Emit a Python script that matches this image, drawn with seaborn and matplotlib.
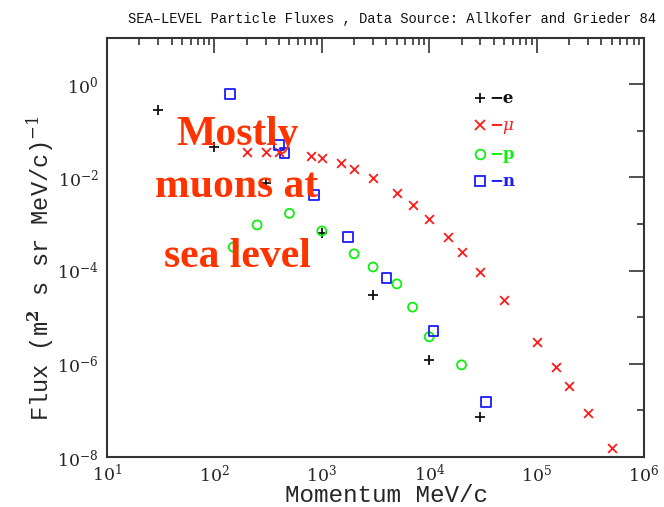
import numpy as np
import pandas as pd
import matplotlib
matplotlib.use("Agg")
import matplotlib.pyplot as plt
from matplotlib.ticker import LogLocator, FixedLocator, LogFormatterMathtext, NullFormatter
from matplotlib.lines import Line2D
import seaborn as sns

# Sea-level particle fluxes (Allkofer & Grieder 1984)
e_p = [30, 100, 300, 1000, 3000, 10000, 30000]
e_flux = [0.28, 0.045, 0.0076, 6.5e-4, 3.0e-5, 1.2e-6, 7.2e-8]

mu_p = [200, 300, 400, 800, 1000, 1500, 2000, 3000, 5000, 7000, 1e4, 1.5e4,
        2e4, 3e4, 5e4, 1e5, 1.5e5, 2e5, 3e5, 5e5]
mu_flux = [0.035, 0.035, 0.036, 0.029, 0.026, 0.020, 0.015, 0.0098, 0.0047,
           0.0026, 0.0013, 5.3e-4, 2.5e-4, 9.4e-5, 2.35e-5, 2.96e-6, 8.5e-7,
           3.4e-7, 8.9e-8, 1.6e-8]

p_p = [150, 250, 500, 1000, 2000, 3000, 5000, 7000, 10000, 20000]
p_flux = [3.2e-4, 9.6e-4, 1.7e-3, 7.1e-4, 2.3e-4, 1.2e-4, 5.2e-5, 1.65e-5,
          3.8e-6, 9.5e-7]

n_p = [140, 400, 450, 850, 1750, 4000, 11000, 34000]
n_flux = [0.62, 0.05, 0.034, 0.0042, 5.3e-4, 7.0e-5, 5.1e-6, 1.5e-7]

series_names = ["e", r"$\mu$", "p", "n"]
series_colors = ["#111111", "#ff1a1a", "#11ee11", "#1a1aff"]
series_markers = ["+", "x", "o", "s"]

frames = []
for name, xs, ys in zip(series_names, [e_p, mu_p, p_p, n_p],
                        [e_flux, mu_flux, p_flux, n_flux]):
    frames.append(pd.DataFrame({"momentum": xs, "flux": ys, "particle": name}))
df = pd.concat(frames, ignore_index=True)

sns.set_style("white")
plt.rcParams["font.family"] = ["DejaVu Serif"]
plt.rcParams["mathtext.fontset"] = "dejavuserif"

fig = plt.figure(figsize=(6.64, 5.07), dpi=100)
ax = fig.add_axes([0.161, 0.0986, 0.809, 0.827])

for name, col, mk in zip(series_names, series_colors, series_markers):
    sub = df[df["particle"] == name]
    if mk in ("o", "s"):
        sns.scatterplot(data=sub, x="momentum", y="flux", ax=ax, marker=mk,
                        s=42 if mk == "o" else 48, color=col,
                        facecolor="none", edgecolor=col, linewidth=1.3,
                        legend=False, zorder=3)
    else:
        sns.scatterplot(data=sub, x="momentum", y="flux", ax=ax, marker=mk,
                        s=55 if mk == "+" else 40, color=col,
                        linewidth=1.3, legend=False, zorder=3)

ax.set_xscale("log")
ax.set_yscale("log")
ax.set_xlim(10, 1e6)
ax.set_ylim(1e-8, 10)

ax.xaxis.set_major_locator(LogLocator(base=10))
ax.xaxis.set_minor_locator(LogLocator(base=10, subs=np.arange(2, 10)))
ax.xaxis.set_major_formatter(LogFormatterMathtext())
ax.xaxis.set_minor_formatter(NullFormatter())
ax.yaxis.set_major_locator(FixedLocator([1e-8, 1e-6, 1e-4, 1e-2, 1e0]))
ax.yaxis.set_minor_locator(FixedLocator([1e-7, 1e-5, 1e-3, 1e-1]))
ax.yaxis.set_major_formatter(LogFormatterMathtext())
ax.yaxis.set_minor_formatter(NullFormatter())

ax.tick_params(which="both", direction="in", top=True, right=True,
               color="#333333", width=1.2, labelsize=12.5)
ax.tick_params(which="major", length=11)
ax.tick_params(which="minor", length=5)
ax.tick_params(axis="y", pad=6)
ax.tick_params(axis="x", pad=5)
for sp in ax.spines.values():
    sp.set_color("#333333")
    sp.set_linewidth(1.5)

ax.set_xlabel("Momentum MeV/c", family="Liberation Mono", fontsize=17.5,
              labelpad=-1, x=0.52)
ax.set_ylabel(r"Flux (m$^{\mathbf{2}}$ s sr MeV/c)$^{-1}$",
              family="Liberation Mono", fontsize=17, labelpad=1, y=0.45)
fig.text(0.59, 0.963, "SEA\u2013LEVEL Particle Fluxes , Data Source: Allkofer and Grieder 84",
         family="Liberation Mono", fontsize=9.9, ha="center", va="center",
         color="#111111")

# Legend: marker followed by dash and particle symbol
handles = []
for name, col, mk in zip(series_names, series_colors, series_markers):
    handles.append(Line2D([], [], linestyle="none", marker=mk, color=col,
                          markerfacecolor="none", markeredgecolor=col,
                          markersize=7, markeredgewidth=1.3))
labels = ["\u2212" + n for n in series_names]
leg = ax.legend(handles, labels, loc="upper left",
                bbox_to_anchor=(0.655, 0.91), frameon=False,
                handlelength=0.8, handletextpad=0.1, labelspacing=0.6,
                labelcolor="markeredgecolor",
                prop={"family": "DejaVu Serif", "weight": "bold", "size": 12})

# Annotation
for txt, yy in [("Mostly", 0.714), ("muons at", 0.611), ("sea level", 0.473)]:
    fig.text(0.357, yy, txt, family="Liberation Serif", weight="bold",
             fontsize=30, color="#ff3300", ha="center", va="baseline",
             zorder=5)

fig.savefig("out.png", dpi=100)
